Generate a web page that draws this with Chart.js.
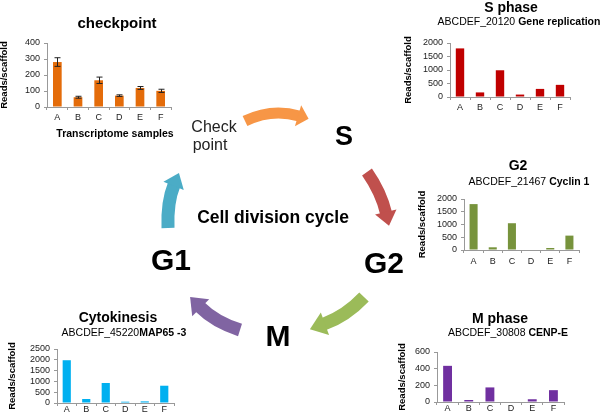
<!DOCTYPE html>
<html>
<head>
<meta charset="utf-8">
<script src="https://cdn.jsdelivr.net/npm/chart.js@4.4.1/dist/chart.umd.min.js"></script>
<style>
html, body { margin: 0; padding: 0; background: #fff; }
body { width: 600px; height: 419px; position: relative; overflow: hidden; font-family: "Liberation Sans", Arial, sans-serif; color: #000; }
canvas.c { position: absolute; }
.t { position: absolute; white-space: nowrap; transform: translate(-50%, -50%); line-height: 1; }
.b { font-weight: bold; }
</style>
</head>
<body>
<canvas id="arrows" class="c" width="600" height="419" style="left:0;top:0"></canvas>

<canvas id="cCheck" class="c" width="180" height="92" style="left:0;top:33px"></canvas>
<canvas id="cS" class="c" width="180" height="85" style="left:400px;top:33px"></canvas>
<canvas id="cG2" class="c" width="180" height="80" style="left:412px;top:189px"></canvas>
<canvas id="cCyto" class="c" width="182" height="78" style="left:0;top:339px"></canvas>
<canvas id="cM" class="c" width="182" height="75" style="left:390px;top:342px"></canvas>

<!-- titles -->
<div class="t b" style="left:117px;top:22px;font-size:15px">checkpoint</div>
<div class="t b" style="left:115px;top:133px;font-size:10.5px">Transcriptome samples</div>

<div class="t b" style="left:511px;top:7px;font-size:14px">S phase</div>
<div class="t" style="left:519px;top:21px;font-size:10.5px">ABCDEF_20120 <span class="b">Gene replication</span></div>

<div class="t b" style="left:518px;top:165px;font-size:14px">G2</div>
<div class="t" style="left:529px;top:181px;font-size:10.5px">ABCDEF_21467 <span class="b">Cyclin 1</span></div>

<div class="t b" style="left:118px;top:317px;font-size:14px">Cytokinesis</div>
<div class="t" style="left:124px;top:332px;font-size:10.5px">ABCDEF_45220<span class="b">MAP65 -3</span></div>

<div class="t b" style="left:500px;top:318px;font-size:14px">M phase</div>
<div class="t" style="left:508px;top:332px;font-size:10.5px">ABCDEF_30808 <span class="b">CENP-E</span></div>

<!-- cycle labels -->
<div class="t" style="left:214px;top:127px;font-size:16px;color:#222">Check</div>
<div class="t" style="left:210px;top:145px;font-size:16px;color:#222">point</div>
<div class="t b" style="left:344px;top:136px;font-size:27px">S</div>
<div class="t b" style="left:273px;top:218px;font-size:17.5px">Cell division cycle</div>
<div class="t b" style="left:384px;top:263px;font-size:30px">G2</div>
<div class="t b" style="left:278px;top:336px;font-size:30px">M</div>
<div class="t b" style="left:171px;top:260px;font-size:30px">G1</div>

<script>
// sample labels
const samples = ['A', 'B', 'C', 'D', 'E', 'F'];

// reads per scaffold
const checkpointVals = [281, 61, 167, 71, 119, 101];
const checkpointErr = [27, 6, 20, 5, 9, 10];
const sPhaseVals = [1800, 170, 990, 90, 300, 450];
const g2Vals = [1800, 106, 1050, 0, 79, 564];
const cytoVals = [1980, 185, 926, 60, 75, 800];
const mPhaseVals = [434, 24, 175, 0, 33, 142];

const FONT = '"Liberation Sans", Arial, sans-serif';

// error bars for the checkpoint chart
const errorBars = {
    id: 'errorBars',
    afterDatasetsDraw(chart, args, opts) {
        if (!opts.err) return;
        const ctx = chart.ctx;
        const y = chart.scales.y;
        const meta = chart.getDatasetMeta(0);
        ctx.save();
        ctx.strokeStyle = '#222';
        ctx.lineWidth = 1;
        meta.data.forEach((bar, i) => {
            const v = chart.data.datasets[0].data[i];
            const top = y.getPixelForValue(v + opts.err[i]);
            const bot = y.getPixelForValue(v - opts.err[i]);
            const x = Math.round(bar.x) + 0.5;
            ctx.beginPath();
            ctx.moveTo(x, top); ctx.lineTo(x, bot);
            ctx.moveTo(x - 3, top); ctx.lineTo(x + 3, top);
            ctx.moveTo(x - 3, bot); ctx.lineTo(x + 3, bot);
            ctx.stroke();
        });
        ctx.restore();
    }
};

// canvas box is given in page coords; area = chart area wanted in page coords
function makeChart(id, box, area, values, color, max, step, err, titleX, labelPad) {
    const yW = area.l - box.x;
    const xH = box.y + box.h - area.b;
    return new Chart(document.getElementById(id), {
        type: 'bar',
        data: {
            labels: samples,
            datasets: [{
                data: values,
                backgroundColor: color,
                barPercentage: 0.42,
                categoryPercentage: 1
            }]
        },
        options: {
            responsive: false,
            animation: false,
            layout: { padding: { left: 0, top: area.t - box.y, right: box.x + box.w - area.r, bottom: 0 } },
            plugins: {
                legend: { display: false },
                tooltip: { enabled: false },
                errorBars: { err: err }
            },
            scales: {
                x: {
                    grid: { drawOnChartArea: false, tickLength: 3, color: '#999' },
                    border: { color: '#999' },
                    ticks: { color: '#222', font: { family: FONT, size: 9 }, padding: labelPad },
                    afterFit(s) { s.height = xH; }
                },
                y: {
                    min: 0,
                    max: max,
                    grid: { drawOnChartArea: false, tickLength: 3, color: '#999' },
                    border: { color: '#999' },
                    ticks: {
                        stepSize: step,
                        autoSkip: false,
                        color: '#222',
                        font: { family: FONT, size: 9 },
                        padding: 4,
                        callback: v => String(v)
                    },
                    title: {
                        display: true,
                        text: 'Reads/scaffold',
                        color: '#000',
                        font: { family: FONT, size: 9.5, weight: 'bold' },
                        padding: { top: titleX - box.x - 6, bottom: 0 }
                    },
                    afterFit(s) { s.width = yW; }
                }
            }
        },
        plugins: [errorBars]
    });
}

makeChart('cCheck', { x: 0, y: 33, w: 180, h: 92 }, { l: 47, r: 171, t: 43, b: 107 },
    checkpointVals, '#e46c0a', 400, 100, checkpointErr, 5, 2);
makeChart('cS', { x: 400, y: 33, w: 180, h: 85 }, { l: 450, r: 570, t: 43, b: 97 },
    sPhaseVals, '#c00000', 2000, 500, null, 409, 2);
makeChart('cG2', { x: 412, y: 189, w: 180, h: 80 }, { l: 464, r: 579, t: 199, b: 250 },
    g2Vals, '#77933c', 2000, 500, null, 423, 3);
makeChart('cCyto', { x: 0, y: 339, w: 182, h: 78 }, { l: 57, r: 174, t: 349, b: 403 },
    cytoVals, '#00b0f0', 2500, 500, null, 13, -2);
makeChart('cM', { x: 390, y: 342, w: 182, h: 75 }, { l: 437, r: 564, t: 352, b: 402 },
    mPhaseVals, '#7030a0', 600, 200, null, 403, -2);

// curved block arrows of the cycle
function arrow(ctx, p0, c, p2, w, head, headW, color) {
    ctx.save();
    ctx.strokeStyle = color;
    ctx.fillStyle = color;
    ctx.lineWidth = w;
    ctx.lineCap = 'butt';
    ctx.beginPath();
    ctx.moveTo(p0[0], p0[1]);
    ctx.quadraticCurveTo(c[0], c[1], p2[0], p2[1]);
    ctx.stroke();
    let dx = p2[0] - c[0], dy = p2[1] - c[1];
    const len = Math.hypot(dx, dy);
    dx /= len; dy /= len;
    const nx = -dy, ny = dx;
    ctx.beginPath();
    ctx.moveTo(p2[0] - dx + nx * headW, p2[1] - dy + ny * headW);
    ctx.lineTo(p2[0] + dx * head, p2[1] + dy * head);
    ctx.lineTo(p2[0] - dx - nx * headW, p2[1] - dy - ny * headW);
    ctx.closePath();
    ctx.fill();
    ctx.restore();
}

const actx = document.getElementById('arrows').getContext('2d');
arrow(actx, [245, 121], [272, 108], [299, 116], 11, 10, 11, '#f79646');
arrow(actx, [367, 172], [381, 192], [386, 213], 12, 13, 11, '#c0504d');
arrow(actx, [364, 297], [346, 316], [324, 324], 13, 15, 12, '#9bbb59');
arrow(actx, [240, 330], [215, 322], [200, 307], 13, 14, 12, '#8064a2');
arrow(actx, [168, 228], [167, 202], [174, 185], 13, 13, 11, '#4bacc6');
</script>
</body>
</html>
